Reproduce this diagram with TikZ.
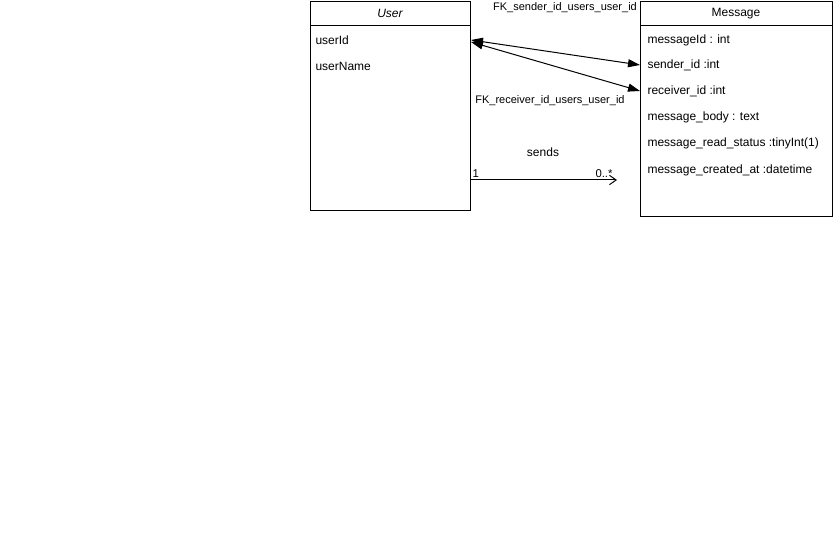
\documentclass[tikz,border=0pt]{standalone}
\usepackage{fontspec}
\setmainfont{Liberation Sans}
\usetikzlibrary{arrows.meta}
\begin{document}
\begin{tikzpicture}[x=0.75pt,y=-0.75pt,
  line width=0.75pt,
  classbox/.style={draw, rectangle, anchor=north west, inner sep=0pt},
  attr/.style={anchor=west, inner sep=0pt, font=\fontsize{9}{11}\selectfont},
  title/.style={inner sep=0pt, font=\fontsize{9}{11}\selectfont},
  lbl/.style={inner sep=0pt, font=\fontsize{8.25}{10}\selectfont},
  mult/.style={inner sep=0pt, anchor=base west, font=\fontsize{8.5}{10}\selectfont},
  fk/.style={{Triangle[length=9pt,width=6pt]}-{Triangle[length=9pt,width=6pt]}},
  assoc/.style={-{Straight Barb[length=5pt,width=7pt]}}]
\fill[white] (0,0) rectangle (833,541);
\useasboundingbox (0,0) rectangle (833,541);

% User class
\node[classbox, minimum width=120pt, minimum height=156.75pt] (user) at (310,1) {};
\draw (310,26) -- (470,26);
\node[title] (usertitle) at (390,13) {\itshape User};
\node[attr] (userid) at (315,40) {userId};
\node[attr] (username) at (315,66) {userName};

% Message class
\node[classbox, minimum width=144pt, minimum height=161.25pt] (msg) at (640,1) {};
\draw (640,26) -- (832,26);
\node[title] (msgtitle) at (736,14) {Message};
\node[attr] (messageid) at (647,40) {messageId : int};
\node[attr] (senderid) at (647,65) {sender\_id :int};
\node[attr] (receiverid) at (647,91) {receiver\_id :int};
\node[attr] (msgbody) at (647,117) {message\_body : text};
\node[attr] (msgread) at (647,143) {message\_read\_status :tinyInt(1)};
\node[attr] (msgcreated) at (647,170) {message\_created\_at :datetime};

% Foreign keys
\draw[fk] (user.east |- userid) -- (msg.west |- senderid);
\draw[fk] ([yshift=-1.5pt]user.east |- userid) -- (msg.west |- receiverid);
\node[lbl] (fksender) at (565,8) {FK\_sender\_id\_users\_user\_id};
\node[lbl] (fkreceiver) at (550,101) {FK\_receiver\_id\_users\_user\_id};

% Association
\coordinate (sendsend) at (617,180);
\draw[assoc] (user.east |- sendsend) -- (sendsend);
\node[title] (sends) at (543,152) {sends};
\node[mult] (multone) at (472,178) {1};
\node[mult] (multmany) at (595,178) {0..*};
\end{tikzpicture}
\end{document}
